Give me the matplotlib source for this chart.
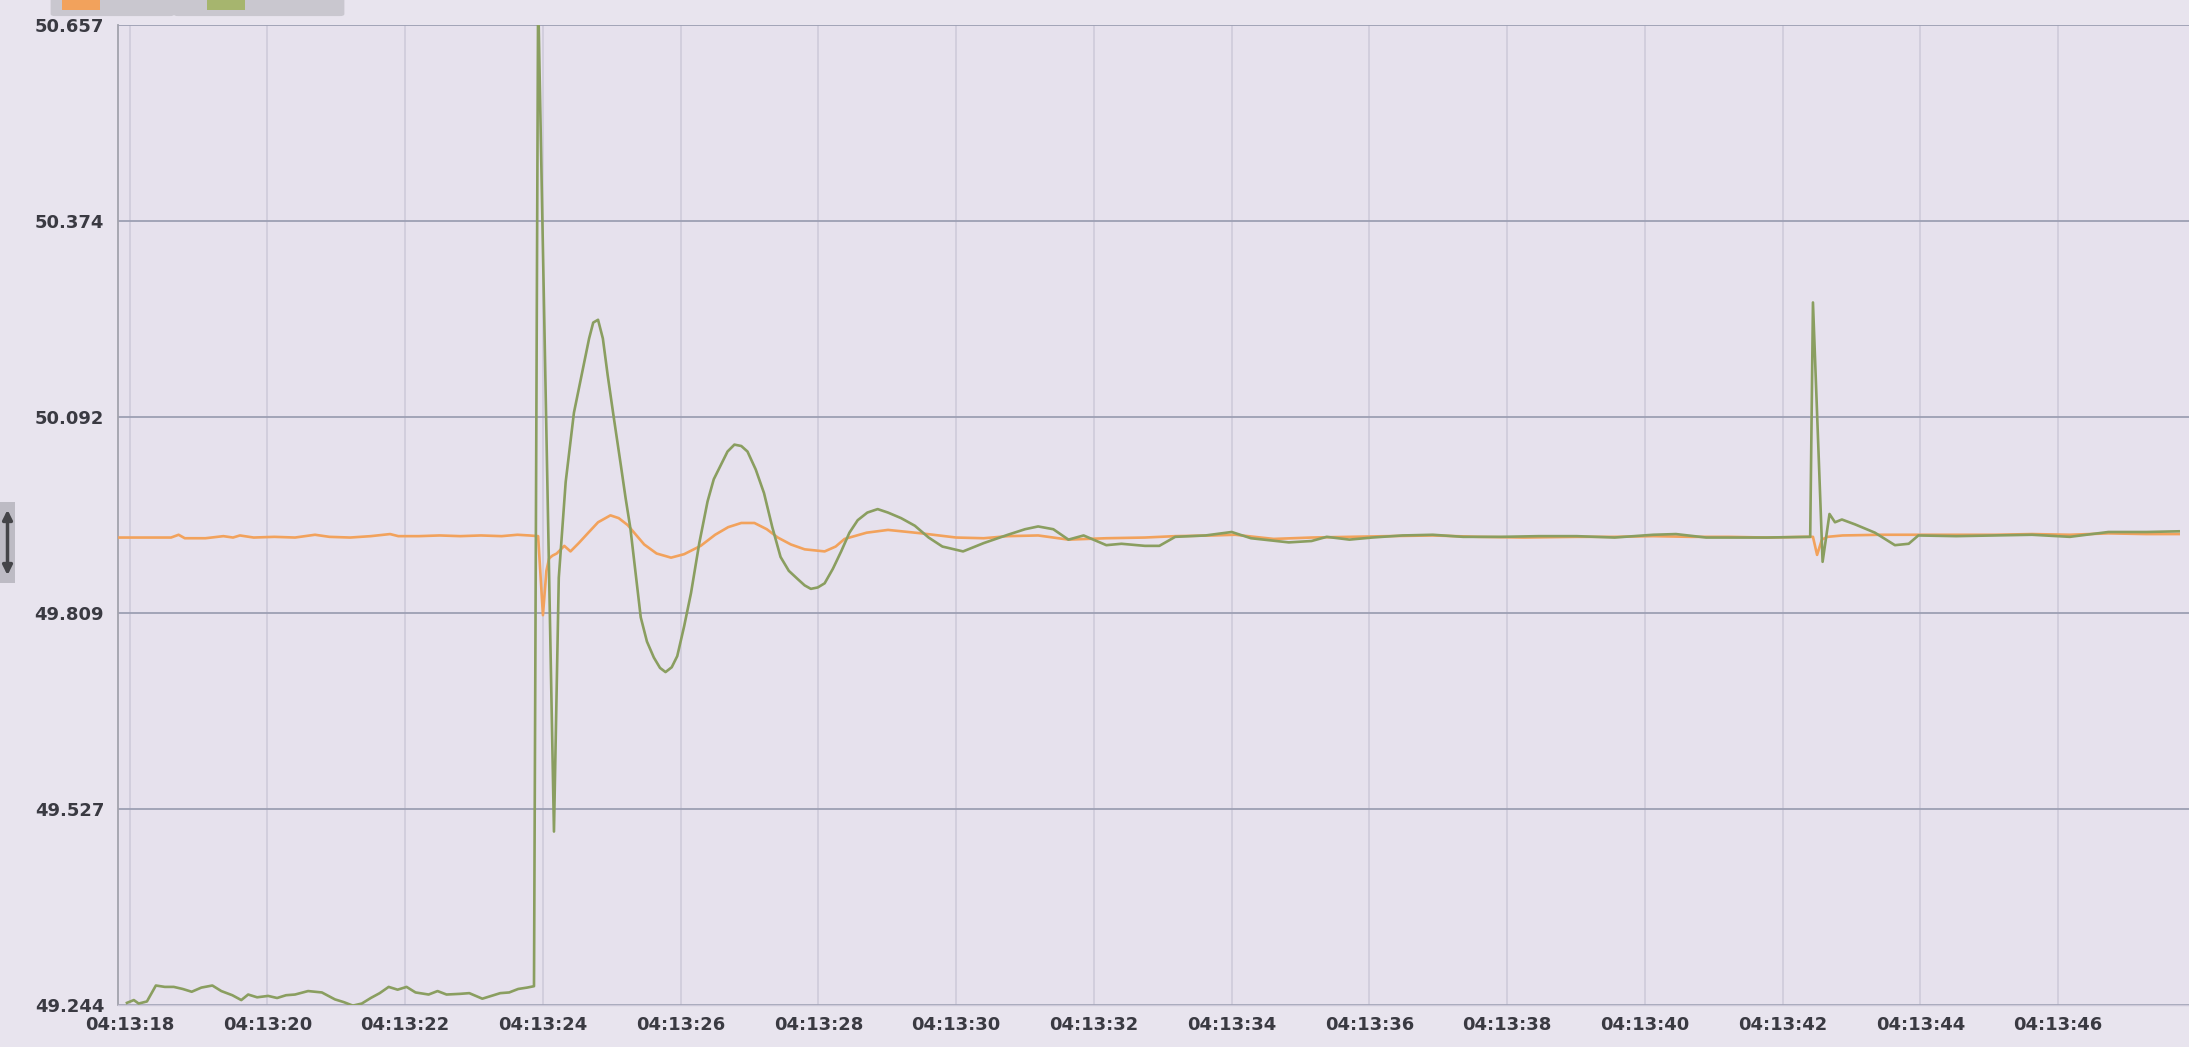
import matplotlib
matplotlib.use('Agg')
import matplotlib.pyplot as plt
from matplotlib.patches import FancyBboxPatch, Rectangle, FancyArrowPatch

W, H = 2189, 1047

# time in seconds after 04:13:00, values in Hz
orange_t = [17.85, 18.2, 18.6, 18.71, 18.8, 19.1, 19.36, 19.5, 19.6, 19.8,
            20.1, 20.4, 20.69, 20.9, 21.2, 21.5, 21.78, 21.9, 22.2, 22.5,
            22.8, 23.1, 23.4, 23.63, 23.8, 23.93, 24.00, 24.05, 24.09, 24.14,
            24.20, 24.31, 24.40, 24.52, 24.65, 24.80, 24.98, 25.10, 25.23, 25.35,
            25.47, 25.65, 25.86, 26.05, 26.29, 26.50, 26.69, 26.88, 27.07, 27.25,
            27.41, 27.60, 27.80, 28.09, 28.25, 28.38, 28.70, 29.01, 29.5, 30.0,
            30.4, 30.75, 31.19, 31.63, 32.18, 32.74, 33.18, 33.73, 34.05, 34.61,
            35.16, 35.71, 36.26, 36.92, 37.58, 38.24, 39.01, 39.56, 40.12, 40.67,
            41.22, 41.77, 42.32, 42.44, 42.50, 42.57, 42.65, 42.87, 43.42, 43.97,
            44.52, 45.07, 45.62, 46.17, 46.73, 47.28, 47.75]
orange_v = [49.918, 49.918, 49.918, 49.922, 49.917, 49.917, 49.920, 49.918, 49.921, 49.918,
            49.919, 49.918, 49.922, 49.919, 49.918, 49.920, 49.923, 49.920, 49.920, 49.921,
            49.920, 49.921, 49.920, 49.922, 49.921, 49.920, 49.806, 49.870, 49.888, 49.892,
            49.895, 49.906, 49.898, 49.910, 49.924, 49.940, 49.950, 49.946, 49.936, 49.922,
            49.908, 49.895, 49.889, 49.894, 49.906, 49.922, 49.933, 49.939, 49.939, 49.930,
            49.918, 49.908, 49.901, 49.898, 49.905, 49.916, 49.925, 49.929, 49.924, 49.918,
            49.917, 49.920, 49.921, 49.915, 49.917, 49.918, 49.920, 49.921, 49.922, 49.916,
            49.918, 49.919, 49.920, 49.921, 49.919, 49.918, 49.919, 49.919, 49.920, 49.919,
            49.919, 49.918, 49.919, 49.919, 49.893, 49.915, 49.919, 49.921, 49.922, 49.922,
            49.922, 49.922, 49.923, 49.922, 49.924, 49.923, 49.923]

green_t = [17.96, 18.06, 18.13, 18.25, 18.38, 18.51, 18.64, 18.77, 18.90, 19.04,
           19.20, 19.33, 19.49, 19.62, 19.72, 19.85, 20.01, 20.14, 20.27, 20.40,
           20.59, 20.79, 20.98, 21.11, 21.24, 21.37, 21.50, 21.63, 21.76, 21.89,
           22.02, 22.15, 22.34, 22.47, 22.60, 22.80, 22.93, 23.12, 23.25, 23.38,
           23.51, 23.64, 23.77, 23.87, 23.93, 24.16, 24.23, 24.33, 24.45, 24.60,
           24.67, 24.73, 24.80, 24.87, 24.94, 25.03, 25.13, 25.20, 25.27, 25.35,
           25.42, 25.51, 25.61, 25.70, 25.78, 25.87, 25.95, 26.05, 26.15, 26.27,
           26.39, 26.48, 26.58, 26.68, 26.78, 26.88, 26.97, 27.09, 27.21, 27.33,
           27.45, 27.57, 27.70, 27.80, 27.89, 27.99, 28.09, 28.21, 28.33, 28.45,
           28.57, 28.71, 28.86, 29.01, 29.2, 29.4, 29.6, 29.8, 30.1, 30.4,
           30.75, 31.0, 31.19, 31.41, 31.63, 31.85, 32.18, 32.40, 32.74, 32.95,
           33.18, 33.62, 34.00, 34.28, 34.83, 35.16, 35.38, 35.71, 36.04, 36.48,
           36.92, 37.36, 37.91, 38.46, 39.01, 39.56, 40.12, 40.45, 40.89, 41.22,
           41.77, 42.32, 42.40, 42.44, 42.58, 42.68, 42.76, 42.86, 43.05, 43.34,
           43.63, 43.83, 43.97, 44.52, 45.07, 45.62, 46.17, 46.73, 47.28, 47.75]
green_v = [49.247, 49.251, 49.246, 49.249, 49.272, 49.270, 49.270, 49.267, 49.263, 49.269,
           49.272, 49.264, 49.258, 49.251, 49.259, 49.255, 49.257, 49.254, 49.258, 49.259,
           49.264, 49.262, 49.252, 49.248, 49.243, 49.246, 49.254, 49.261, 49.270, 49.266,
           49.270, 49.262, 49.259, 49.264, 49.259, 49.260, 49.261, 49.253, 49.257, 49.261,
           49.262, 49.267, 49.269, 49.271, 50.700, 49.494, 49.860, 49.998, 50.098, 50.171,
           50.205, 50.228, 50.232, 50.205, 50.152, 50.090, 50.023, 49.975, 49.931, 49.862,
           49.803, 49.768, 49.745, 49.730, 49.724, 49.731, 49.747, 49.790, 49.838, 49.910,
           49.970, 50.002, 50.022, 50.042, 50.052, 50.050, 50.042, 50.016, 49.982, 49.933,
           49.890, 49.870, 49.858, 49.849, 49.844, 49.846, 49.852, 49.873, 49.898, 49.925,
           49.943, 49.954, 49.959, 49.954, 49.946, 49.935, 49.918, 49.905, 49.898, 49.910,
           49.922, 49.930, 49.934, 49.930, 49.915, 49.921, 49.907, 49.909, 49.906, 49.906,
           49.919, 49.921, 49.926, 49.917, 49.911, 49.913, 49.919, 49.915, 49.918, 49.921,
           49.922, 49.919, 49.919, 49.920, 49.920, 49.918, 49.922, 49.923, 49.918, 49.918,
           49.918, 49.919, 49.919, 50.257, 49.883, 49.952, 49.940, 49.944, 49.937, 49.925,
           49.907, 49.909, 49.921, 49.920, 49.921, 49.922, 49.919, 49.926, 49.926, 49.927]

y_ticks = [49.244, 49.527, 49.809, 50.092, 50.374, 50.657]
x_ticks = [18, 20, 22, 24, 26, 28, 30, 32, 34, 36, 38, 40, 42, 44, 46]
x_tick_labels = ['04:13:%02d' % s for s in x_ticks]

fig = plt.figure(figsize=(W / 100, H / 100), dpi=100, facecolor='#e8e4ee')
ax = fig.add_axes([118 / W, 1 - 1005 / H, 1 - 118 / W, (1005 - 25) / H])
ax.set_facecolor('#e6e1ed')

ax.plot(orange_t, orange_v, color='#f2a25c', lw=1.9, zorder=3)
ax.plot(green_t, green_v, color='#8a9e60', lw=1.9, zorder=4)

ax.set_xlim(17.83, 47.9)
ax.set_ylim(49.2439, 50.6571)
ax.set_yticks(y_ticks)
ax.set_yticklabels(['%.3f' % v for v in y_ticks])
ax.set_xticks(x_ticks)
ax.set_xticklabels(x_tick_labels)
for lbl in ax.get_xticklabels() + ax.get_yticklabels():
    lbl.set_fontweight('bold')

ax.yaxis.grid(True, color='#9c9fb3', lw=1.3)
ax.xaxis.grid(True, color='#cdc9d9', lw=1.1)
ax.set_axisbelow(True)
ax.tick_params(length=0, labelsize=13, labelcolor='#3a3a42')
ax.tick_params(axis='y', pad=10)
ax.tick_params(axis='x', pad=8)

for side in ['top', 'right']:
    ax.spines[side].set_visible(False)
ax.spines['left'].set_color('#a2a2ac')
ax.spines['left'].set_linewidth(1.3)
ax.spines['bottom'].set_color('#cdc9d9')
ax.spines['bottom'].set_linewidth(1.0)

# legend boxes cut off at the top edge
legend_boxes = [(55, 170, '#f2a25c', 62, 100), (178, 340, '#a6b56e', 207, 245)]
for x0, x1, col, s0, s1 in legend_boxes:
    fig.add_artist(FancyBboxPatch((x0 / W, 1 - 14 / H), (x1 - x0) / W, 40 / H,
                                  boxstyle='round,pad=0.002', transform=fig.transFigure,
                                  facecolor='#c9c7cf', edgecolor='none', clip_on=False))
    fig.add_artist(Rectangle((s0 / W, 1 - 10 / H), (s1 - s0) / W, 30 / H,
                             transform=fig.transFigure, facecolor=col, edgecolor='none'))

# zoom handle on the left
fig.add_artist(Rectangle((0, 1 - 583 / H), 15 / W, 81 / H, transform=fig.transFigure,
                         facecolor='#bdbbc4', edgecolor='none'))
fig.add_artist(FancyArrowPatch((7.5 / W, 1 - 578 / H), (7.5 / W, 1 - 507 / H),
                               arrowstyle='<|-|>', mutation_scale=14,
                               color='#444448', lw=2.5, transform=fig.transFigure))

fig.savefig('out.png', dpi=100, facecolor=fig.get_facecolor())
